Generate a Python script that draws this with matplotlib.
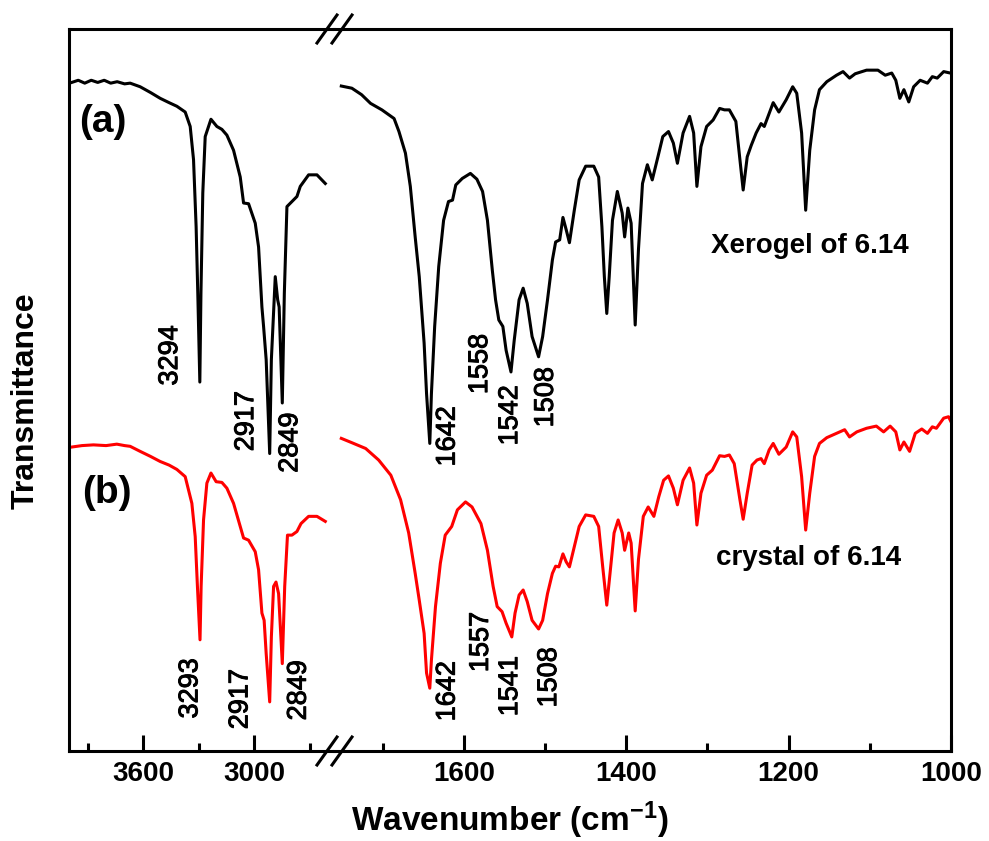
import matplotlib
matplotlib.use("Agg")
import matplotlib.pyplot as plt
import matplotlib.patheffects as pe
from matplotlib.lines import Line2D
from matplotlib.ticker import MultipleLocator

plt.rcParams['font.family'] = ['Liberation Sans', 'DejaVu Sans']
plt.rcParams['mathtext.fontset'] = 'custom'
plt.rcParams['mathtext.rm'] = 'Liberation Sans'
plt.rcParams['mathtext.bf'] = 'Liberation Sans:bold'
plt.rcParams['mathtext.default'] = 'bf'

# ---- data: (a) xerogel, black ----
wn_a_hi = [3985, 3950, 3915, 3880, 3845, 3810, 3775, 3740, 3700, 3670,
           3616, 3560, 3508, 3460, 3418, 3373, 3346, 3328, 3314, 3305,
           3294, 3288, 3278, 3265, 3234, 3202, 3175, 3148, 3112, 3076,
           3058, 3031, 2995, 2977, 2959, 2950, 2936, 2917, 2908, 2887,
           2874, 2866, 2849, 2838, 2824, 2797, 2770, 2752, 2707, 2662, 2617]
t_a_hi = [92.6, 92.9, 92.5, 92.9, 92.6, 92.9, 92.5, 92.7, 92.4, 92.5,
          92.0, 91.2, 90.4, 89.8, 89.3, 88.5, 86.5, 81.9, 72.6, 63.4,
          51.1, 63.4, 77.3, 85.1, 87.5, 86.5, 86.1, 85.3, 83.2, 79.5,
          75.9, 75.8, 73.1, 69.8, 61.5, 58.8, 54.2, 41.2, 54.2, 65.7,
          62.5, 61.5, 48.2, 63.4, 75.4, 76.1, 76.8, 78.2, 79.8, 79.8, 78.6]

wn_a_lo = [1751, 1738, 1726, 1715, 1701, 1686, 1680, 1672, 1666, 1660,
           1655, 1649, 1646, 1642, 1640, 1636, 1631, 1625, 1619, 1614,
           1610, 1602, 1592, 1584, 1577, 1571, 1565, 1561, 1557, 1552,
           1548, 1542, 1538, 1532, 1527, 1522, 1516, 1508, 1503, 1497,
           1491, 1487, 1482, 1478, 1474, 1470, 1464, 1458, 1450, 1440,
           1434, 1430, 1427, 1424, 1421, 1417, 1411, 1405, 1402, 1398,
           1394, 1389, 1385, 1380, 1374, 1368, 1361, 1355, 1348, 1342,
           1337, 1330, 1322, 1317, 1313, 1308, 1301, 1293, 1285, 1279,
           1273, 1265, 1260, 1256, 1251, 1246, 1240, 1234, 1230, 1224,
           1219, 1212, 1203, 1195, 1190, 1184, 1179, 1174, 1168, 1162,
           1153, 1141, 1133, 1125, 1118, 1104, 1090, 1081, 1073, 1068,
           1063, 1058, 1052, 1046, 1038, 1029, 1023, 1017, 1009, 1001]
t_a_lo = [92.1, 91.8, 90.9, 89.7, 88.8, 87.6, 85.8, 82.8, 78.2, 71.2,
          65.7, 56.5, 49.5, 42.6, 49.5, 58.8, 67.1, 73.5, 76.1, 76.3,
          78.4, 79.3, 80.0, 79.2, 77.5, 73.5, 66.6, 62.5, 59.7, 58.8,
          55.5, 52.5, 56.9, 62.5, 64.1, 62.0, 57.4, 54.6, 57.4, 62.5,
          68.0, 70.5, 70.8, 73.9, 72.2, 70.4, 74.9, 79.1, 81.0, 81.0,
          79.5, 72.6, 65.7, 60.6, 65.7, 73.5, 77.5, 74.5, 71.2, 75.2,
          73.1, 59.0, 69.4, 78.6, 81.2, 79.1, 82.3, 85.1, 85.8, 84.2,
          81.4, 85.6, 87.9, 85.6, 78.2, 83.7, 86.5, 87.4, 89.0, 88.8,
          88.8, 87.2, 81.9, 77.7, 82.3, 83.9, 85.6, 86.9, 86.5, 88.3,
          89.8, 88.5, 90.2, 92.0, 91.1, 85.6, 74.9, 83.2, 88.8, 91.6,
          92.7, 93.6, 94.1, 93.2, 93.8, 94.3, 94.3, 93.6, 93.9, 92.9,
          90.4, 91.6, 89.9, 92.0, 92.9, 92.5, 93.4, 93.2, 94.1, 93.9]

# ---- data: (b) crystal, red ----
wn_b_hi = [3985, 3930, 3868, 3800, 3742, 3700, 3670, 3616, 3560, 3508,
           3460, 3418, 3373, 3337, 3319, 3307, 3293, 3287, 3274, 3256,
           3234, 3206, 3175, 3148, 3112, 3076, 3058, 3031, 2995, 2977,
           2959, 2947, 2936, 2917, 2908, 2896, 2883, 2869, 2849, 2836,
           2821, 2797, 2770, 2748, 2707, 2662, 2617]
t_b_hi = [42.1, 42.3, 42.4, 42.3, 42.5, 42.3, 42.2, 41.5, 40.8, 40.1,
          39.6, 39.0, 38.0, 34.3, 29.7, 22.8, 15.4, 22.8, 32.0, 37.1,
          38.5, 37.3, 37.2, 36.4, 34.3, 31.1, 29.5, 29.2, 27.6, 25.1,
          19.1, 18.1, 13.5, 6.8, 15.8, 22.8, 23.4, 21.8, 12.1, 22.8,
          29.9, 29.9, 30.4, 31.5, 32.5, 32.5, 31.8]

wn_b_lo = [1751, 1738, 1721, 1705, 1690, 1678, 1668, 1660, 1655, 1649,
           1646, 1642, 1640, 1635, 1629, 1623, 1615, 1608, 1598, 1590,
           1579, 1571, 1564, 1559, 1553, 1548, 1541, 1537, 1532, 1527,
           1522, 1516, 1508, 1503, 1497, 1491, 1487, 1483, 1478, 1474,
           1470, 1464, 1458, 1450, 1440, 1434, 1429, 1424, 1420, 1415,
           1410, 1405, 1402, 1397, 1394, 1389, 1385, 1379, 1373, 1366,
           1360, 1354, 1348, 1342, 1337, 1330, 1322, 1317, 1313, 1308,
           1301, 1294, 1285, 1279, 1273, 1267, 1260, 1256, 1251, 1245,
           1239, 1234, 1230, 1224, 1219, 1212, 1203, 1195, 1190, 1184,
           1179, 1174, 1168, 1162, 1153, 1141, 1131, 1125, 1116, 1104,
           1092, 1083, 1075, 1068, 1063, 1058, 1051, 1044, 1036, 1029,
           1023, 1018, 1009, 1003, 1000]
t_b_lo = [43.3, 42.7, 41.9, 40.3, 38.2, 34.8, 30.2, 24.6, 20.9, 16.3,
          10.8, 8.7, 12.6, 20.0, 26.0, 29.9, 31.1, 33.4, 34.5, 33.8,
          31.5, 27.8, 22.8, 20.0, 19.3, 17.7, 15.8, 19.1, 21.6, 22.3,
          20.7, 18.1, 16.9, 18.1, 21.8, 24.6, 25.6, 25.5, 27.3, 26.2,
          25.5, 28.3, 31.1, 32.7, 32.5, 31.1, 25.5, 20.2, 24.6, 30.2,
          32.0, 30.2, 27.8, 30.2, 28.8, 19.4, 26.5, 32.5, 33.8, 32.5,
          35.2, 37.5, 38.1, 36.4, 34.1, 37.5, 39.2, 37.1, 31.3, 35.7,
          38.2, 38.9, 40.9, 40.8, 41.0, 39.8, 34.8, 32.1, 35.7, 39.6,
          40.3, 40.5, 39.8, 41.7, 42.6, 41.1, 42.1, 44.2, 43.5, 38.0,
          30.6, 35.7, 40.8, 42.6, 43.4, 44.0, 44.5, 43.5, 44.2, 44.7,
          45.0, 44.2, 45.0, 44.2, 41.7, 42.8, 41.5, 44.0, 44.6, 44.0,
          44.9, 44.7, 46.1, 46.3, 45.6]

# peak labels: text, wavenumber position, transmittance position
peaks_a_hi = ["3294", "2917", "2849"]
peaks_a_hi_x = [3454, 3044, 2806]
peaks_a_hi_y = [54.8, 45.7, 42.7]
peaks_a_lo = ["1642", "1558", "1542", "1508"]
peaks_a_lo_x = [1620, 1580, 1543, 1499]
peaks_a_lo_y = [43.6, 53.6, 46.5, 49.0]
peaks_b_hi = ["3293", "2917", "2849"]
peaks_b_hi_x = [3345, 3075, 2760]
peaks_b_hi_y = [8.7, 7.2, 8.4]
peaks_b_lo = ["1642", "1557", "1541", "1508"]
peaks_b_lo_x = [1620, 1579, 1543, 1495]
peaks_b_lo_y = [8.3, 15.1, 9.0, 10.2]

W, H = 989, 841
fig = plt.figure(figsize=(W / 100, H / 100), dpi=100)

left, brk, right = 69, 334, 951
top, bottom = 29, 751
fb = 1 - bottom / H
fh = (bottom - top) / H
ax1 = fig.add_axes([left / W, fb, (brk - left) / W, fh])
ax2 = fig.add_axes([brk / W, fb, (right - brk) / W, fh])

lw = 2.2
for ax in (ax1, ax2):
    for s in ax.spines.values():
        s.set_linewidth(lw)
    ax.set_ylim(0, 100)
    ax.set_yticks([])
    ax.tick_params(axis='x', which='both', direction='in', top=False,
                   width=lw, labelsize=20, pad=7)
    ax.tick_params(axis='x', which='major', length=11.5)
    ax.tick_params(axis='x', which='minor', length=5.8)

ax1.spines['right'].set_visible(False)
ax2.spines['left'].set_visible(False)

ax1.set_xlim(4000, 2570)
ax1.xaxis.set_major_locator(MultipleLocator(600))
ax1.xaxis.set_minor_locator(MultipleLocator(300))
ax2.set_xlim(1760, 1000)
ax2.xaxis.set_major_locator(MultipleLocator(200))
ax2.xaxis.set_minor_locator(MultipleLocator(100))
for ax in (ax1, ax2):
    for lab in ax.get_xticklabels():
        lab.set_fontweight('bold')

ax1.plot(wn_a_hi, t_a_hi, color='black', lw=lw, solid_joinstyle='round')
ax2.plot(wn_a_lo, t_a_lo, color='black', lw=lw, solid_joinstyle='round')
ax1.plot(wn_b_hi, t_b_hi, color='red', lw=lw, solid_joinstyle='round')
ax2.plot(wn_b_lo, t_b_lo, color='red', lw=lw, solid_joinstyle='round')

# peak labels are a bit heavier than plain regular weight in the original
heavy = [pe.withStroke(linewidth=0.7, foreground='black')]
ann = dict(rotation=90, ha='center', va='center', fontsize=19.5, path_effects=heavy)
for ax, labs, xs, ys in [(ax1, peaks_a_hi, peaks_a_hi_x, peaks_a_hi_y),
                         (ax2, peaks_a_lo, peaks_a_lo_x, peaks_a_lo_y),
                         (ax1, peaks_b_hi, peaks_b_hi_x, peaks_b_hi_y),
                         (ax2, peaks_b_lo, peaks_b_lo_x, peaks_b_lo_y)]:
    for t, x, y in zip(labs, xs, ys):
        ax.text(x, y, t, **ann)

ax1.text(3816, 87.1, "(a)", fontsize=28, fontweight='bold', ha='center', va='center')
ax1.text(3794, 35.7, "(b)", fontsize=28, fontweight='bold', ha='center', va='center')
ax2.text(1174, 69.9, "Xerogel of 6.14", fontsize=20, fontweight='bold', ha='center', va='center')
ax2.text(1175, 26.7, "crystal of 6.14", fontsize=20, fontweight='bold', ha='center', va='center')

fig.text((left + right) / 2 / W, 1 - 820 / H, r"Wavenumber (cm$^{-1}$)",
         fontsize=24, fontweight='bold', ha='center', va='center')
fig.text(26 / W, 1 - 401 / H, "Transmittance", rotation=90,
         fontsize=23, fontweight='bold', ha='center', va='center')

# axis break marks "//" on top and bottom spines
for yb in (top, bottom):
    for off in (-7, 8):
        cx = brk + off
        fig.add_artist(Line2D([(cx - 10) / W, (cx + 10) / W],
                              [1 - (yb + 14) / H, 1 - (yb - 14) / H],
                              transform=fig.transFigure, color='black', lw=lw))

fig.savefig("out.png", dpi=100)
